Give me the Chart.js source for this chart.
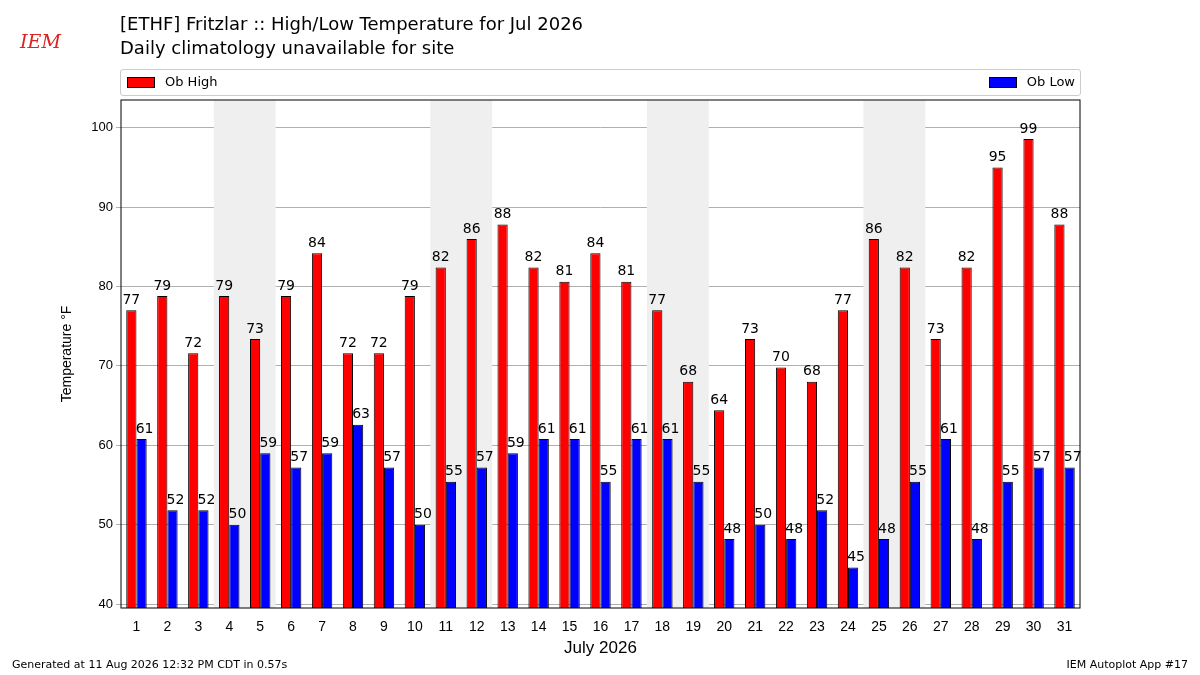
<!DOCTYPE html>
<html>
<head>
<meta charset="utf-8">
<script src="https://cdn.jsdelivr.net/npm/chart.js@4"></script>
<style>
body { margin:0; width:1200px; height:675px; position:relative; font-family:"DejaVu Sans"; background:#fff; overflow:hidden; }
#wrap { position:absolute; left:0; top:0; width:1200px; height:675px; }
.t { position:absolute; font-size:18px; color:#000; }
.legend { position:absolute; left:120px; top:69px; width:959px; height:25px; border:1px solid #ccc; border-radius:3px; font-size:13px; }
.sw { display:inline-block; width:26px; height:9px; border:1px solid #000; vertical-align:middle; margin-right:10px; }
.foot { position:absolute; top:658px; font-size:11px; }
</style>
</head>
<body>
<div id="wrap"><canvas id="chart" width="1200" height="675"></canvas></div>
<div class="t" style="left:120px;top:13px">[ETHF] Fritzlar :: High/Low Temperature for Jul 2026</div>
<div class="t" style="left:120px;top:37px">Daily climatology unavailable for site</div>
<div style="position:absolute;left:20px;top:30px;color:#d22;font-style:italic;font-size:19px;font-family:'DejaVu Serif'">IEM</div>
<div class="legend">
  <span style="position:absolute;left:6px;top:4px"><span class="sw" style="background:red"></span>Ob High</span>
  <span style="position:absolute;right:5px;top:4px"><span class="sw" style="background:blue"></span>Ob Low</span>
</div>
<div class="foot" style="left:12px">Generated at 11 Aug 2026 12:32 PM CDT in 0.57s</div>
<div class="foot" style="right:12px">IEM Autoplot App #17</div>
<script>
const highs = [77,78.8,71.6,78.8,73.4,78.8,84.2,71.6,71.6,78.8,82.4,86,87.8,82.4,80.6,84.2,80.6,77,68,64.4,73.4,69.8,68,77,86,82.4,73.4,82.4,95,98.6,87.8];
const lows = [60.8,51.8,51.8,50,59,57.2,59,62.6,57.2,50,55.4,57.2,59,60.8,60.8,55.4,60.8,60.8,55.4,48.2,50,48.2,51.8,44.6,48.2,55.4,60.8,48.2,55.4,57.2,57.2];
const days = highs.map((v, i) => String(i + 1));
const weekends = [[4,5],[11,12],[18,19],[25,26]];

const extras = {
    id: 'extras',
    beforeDatasetsDraw(chart) {
        const {ctx, chartArea, scales} = chart;
        const half = (scales.x.getPixelForValue(1) - scales.x.getPixelForValue(0)) / 2;
        ctx.save();
        ctx.fillStyle = '#efefef';
        weekends.forEach(([a, b]) => {
            const x1 = scales.x.getPixelForValue(a - 1) - half;
            const x2 = scales.x.getPixelForValue(b - 1) + half;
            ctx.fillRect(x1, chartArea.top, x2 - x1, chartArea.bottom - chartArea.top);
        });
        ctx.restore();
    },
    afterDatasetsDraw(chart) {
        const {ctx, chartArea} = chart;
        ctx.save();
        ctx.font = '14px "DejaVu Sans"';
        ctx.fillStyle = '#000';
        ctx.textAlign = 'center';
        ctx.textBaseline = 'bottom';
        chart.data.datasets.forEach((ds, di) => {
            chart.getDatasetMeta(di).data.forEach((bar, i) => {
                ctx.fillText(Math.round(ds.data[i]), bar.x + (di === 0 ? 0 : 3), bar.y - 3);
            });
        });
        ctx.strokeStyle = '#000';
        ctx.lineWidth = 1;
        ctx.strokeRect(chartArea.left, chartArea.top, chartArea.right - chartArea.left, chartArea.bottom - chartArea.top);
        ctx.restore();
    }
};

new Chart(document.getElementById('chart'), {
    type: 'bar',
    data: {
        labels: days,
        datasets: [
            { label: 'Ob High', data: highs, backgroundColor: 'red', borderColor: 'black', borderWidth: 1 },
            { label: 'Ob Low', data: lows, backgroundColor: 'blue', borderColor: 'black', borderWidth: 1 }
        ]
    },
    options: {
        responsive: false,
        animation: false,
        layout: { padding: { top: 100, right: 120, bottom: 12, left: 55 } },
        datasets: { bar: { barPercentage: 1.0, categoryPercentage: 0.66, base: 39.5 } },
        plugins: { legend: { display: false }, tooltip: { enabled: false } },
        scales: {
            y: {
                min: 39.5, max: 103.5,
                afterFit: (s) => { s.width = 66; },
                afterBuildTicks: (s) => { s.ticks = [40,50,60,70,80,90,100].map(v => ({ value: v })); },
                ticks: { color: '#000', font: { size: 13 } },
                grid: { color: '#b0b0b0', drawTicks: true, tickLength: 5 },
                border: { display: false },
                title: { display: true, text: 'Temperature °F', color: '#000', font: { size: 14 }, padding: 4 }
            },
            x: {
                afterFit: (s) => { s.height = 55; },
                ticks: { color: '#000', font: { size: 14 } },
                grid: { display: false },
                border: { display: false },
                title: { display: true, text: 'July 2026', color: '#000', font: { size: 17 } }
            }
        }
    },
    plugins: [extras]
});
</script>
</body>
</html>
